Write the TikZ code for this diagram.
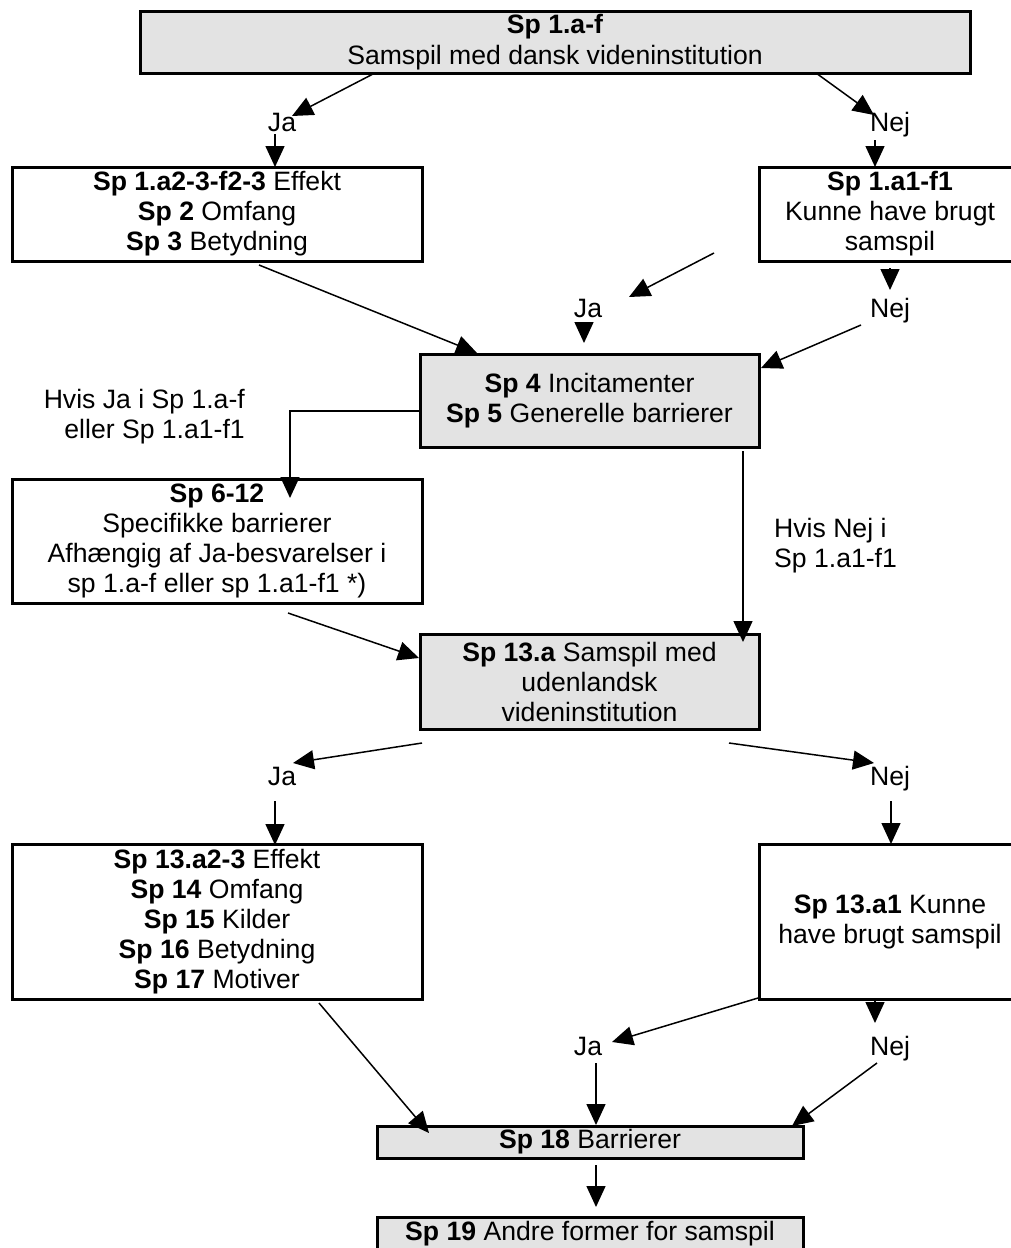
\documentclass[tikz,border=0pt]{standalone}
\usepackage{fontspec}
\setmainfont{Liberation Sans}
\usetikzlibrary{arrows.meta}
\definecolor{boxgray}{RGB}{227,227,227}
\begin{document}
\begin{tikzpicture}[x=1pt,y=-1pt,
  txt/.style={font=\fontsize{26.6}{30}\selectfont},
  box/.style={draw,line width=3pt,inner sep=0pt,align=center,txt},
  gbox/.style={box,fill=boxgray},
  lbl/.style={inner sep=0pt,txt,anchor=base},
  arr/.style={line width=1.5pt,-{Triangle[length=21pt,width=19pt]}},
]
\useasboundingbox (0,0) rectangle (1011,1248);
% boxes
\node[gbox,minimum width=830pt,minimum height=62pt] (top) at (555,42) {\textbf{Sp 1.a-f}\\[1pt]Samspil med dansk videninstitution};
\node[box,minimum width=410pt,minimum height=94pt] (b1) at (217,214) {\textbf{Sp 1.a2-3-f2-3} Effekt\\\textbf{Sp 2} Omfang\\\textbf{Sp 3} Betydning};
\node[box,minimum width=262pt,minimum height=94pt] (b2) at (890,214) {\textbf{Sp 1.a1-f1}\\Kunne have brugt\\samspil};
\node[gbox,minimum width=339pt,minimum height=93pt] (sp4) at (589.5,400.5) {\textbf{Sp 4} Incitamenter\\\textbf{Sp 5} Generelle barrierer};
\node[box,minimum width=410pt,minimum height=124pt] (b6) at (217,541) {\textbf{Sp 6-12}\\Specifikke barrierer\\Afhængig af Ja-besvarelser i\\sp 1.a-f eller sp 1.a1-f1 *)};
\node[gbox,minimum width=339pt,minimum height=95pt] (sp13) at (589.5,681.5) {\textbf{Sp 13.a} Samspil med\\udenlandsk\\videninstitution};
\node[box,minimum width=410pt,minimum height=155pt] (b7) at (217,921.5) {\textbf{Sp 13.a2-3} Effekt\\\textbf{Sp 14} Omfang\\\textbf{Sp 15} Kilder\\\textbf{Sp 16} Betydning\\\textbf{Sp 17} Motiver};
\node[box,minimum width=262pt,minimum height=155pt] (b8) at (890,921.5) {\textbf{Sp 13.a1} Kunne\\have brugt samspil};
\node[gbox,minimum width=426pt,minimum height=32pt] (sp18) at (590,1142) {\textbf{Sp 18} Barrierer};
\node[gbox,minimum width=426pt,minimum height=34pt] (sp19) at (590,1234) {\textbf{Sp 19} Andre former for samspil};
% labels
\node[lbl] (ja1) at (282,131) {Ja};
\node[lbl] (nej1) at (890,131) {Nej};
\node[lbl] (ja2) at (588,317) {Ja};
\node[lbl] (nej2) at (890,317) {Nej};
\node[lbl] (ja3) at (282,785) {Ja};
\node[lbl] (nej3) at (890,785) {Nej};
\node[lbl] (ja4) at (588,1055) {Ja};
\node[lbl] (nej4) at (890,1055) {Nej};
\node[txt,inner sep=0pt,align=right,anchor=north east] (hvisja) at (245,389) {Hvis Ja i Sp 1.a-f\\eller Sp 1.a1-f1};
\node[txt,inner sep=0pt,align=left,anchor=north west] (hvisnej) at (774,518) {Hvis Nej i\\Sp 1.a1-f1};
% connector end points
\coordinate (c1s) at (373,74);   \coordinate (c1e) at (292,116);
\coordinate (c2s) at (275,134);  \coordinate (c2e) at (275,167);
\coordinate (c3s) at (816,73);   \coordinate (c3e) at (874,115);
\coordinate (c4s) at (875,140);  \coordinate (c4e) at (875,167);
\coordinate (c5s) at (714,253);  \coordinate (c5e) at (629,297);
\coordinate (c6s) at (584,323);  \coordinate (c6e) at (584,343);
\coordinate (c7s) at (890,268);  \coordinate (c7e) at (890,290);
\coordinate (c8s) at (861,325);  \coordinate (c8e) at (761,368);
\coordinate (c9s) at (259,265);  \coordinate (c9e) at (477,353);
\coordinate (c10s) at (420,411); \coordinate (c10e) at (290,498);
\coordinate (c11s) at (743,451); \coordinate (c11e) at (743,642);
\coordinate (c12s) at (288,613); \coordinate (c12e) at (419,658);
\coordinate (c13s) at (422,743); \coordinate (c13e) at (293,763);
\coordinate (c14s) at (275,801); \coordinate (c14e) at (275,845);
\coordinate (c15s) at (729,743); \coordinate (c15e) at (874,763);
\coordinate (c16s) at (891,801); \coordinate (c16e) at (891,844);
\coordinate (c17s) at (319,1003); \coordinate (c17e) at (429,1133);
\coordinate (c18s) at (758,998); \coordinate (c18e) at (612,1042);
\coordinate (c19s) at (596,1063); \coordinate (c19e) at (596,1125);
\coordinate (c20s) at (875,1001); \coordinate (c20e) at (875,1023);
\coordinate (c21s) at (877,1063); \coordinate (c21e) at (792,1126);
\coordinate (c22s) at (596,1165); \coordinate (c22e) at (596,1207);
% connectors
\draw[arr] (c1s) -- (c1e);
\draw[arr] (c2s) -- (c2e);
\draw[arr] (c3s) -- (c3e);
\draw[arr] (c4s) -- (c4e);
\draw[arr] (c5s) -- (c5e);
\draw[arr] (c6s) -- (c6e);
\draw[arr] (c7s) -- (c7e);
\draw[arr] (c8s) -- (c8e);
\draw[arr] (c9s) -- (c9e);
\draw[arr] (c10s) -| (c10e);
\draw[arr] (c11s) -- (c11e);
\draw[arr] (c12s) -- (c12e);
\draw[arr] (c13s) -- (c13e);
\draw[arr] (c14s) -- (c14e);
\draw[arr] (c15s) -- (c15e);
\draw[arr] (c16s) -- (c16e);
\draw[arr] (c17s) -- (c17e);
\draw[arr] (c18s) -- (c18e);
\draw[arr] (c19s) -- (c19e);
\draw[arr] (c20s) -- (c20e);
\draw[arr] (c21s) -- (c21e);
\draw[arr] (c22s) -- (c22e);
\end{tikzpicture}
\end{document}
